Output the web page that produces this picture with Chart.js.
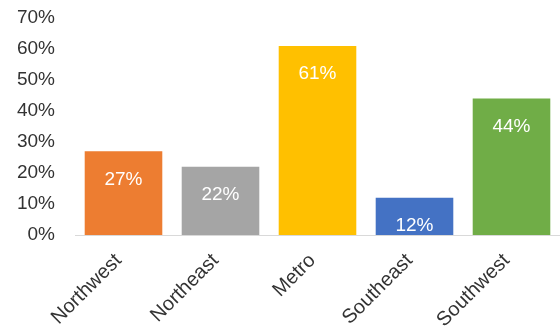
<!DOCTYPE html>
<html>
<head>
<meta charset="utf-8">
<script src="https://cdn.jsdelivr.net/npm/chart.js@4/dist/chart.umd.min.js"></script>
<style>
  html, body { margin: 0; padding: 0; background: #fff; }
  #wrap { width: 560px; height: 335px; }
</style>
</head>
<body>
<div id="wrap"><canvas id="chart" width="560" height="335"></canvas></div>
<script>
'use strict';
var regions = ['Northwest', 'Northeast', 'Metro', 'Southeast', 'Southwest'];
var shares = [27, 22, 61, 12, 44];
var barColors = ['#ED7D31', '#A5A5A5', '#FFC000', '#4472C4', '#70AD47'];
var yTicks = [0, 10, 20, 30, 40, 50, 60, 70];

var fontFamily = '"Liberation Sans", Arial, sans-serif';
var textColor = '#333333';

// white value text near the top of each bar
var valueLabels = {
  id: 'valueLabels',
  afterDatasetsDraw: function (chart) {
    var ctx = chart.ctx;
    var meta = chart.getDatasetMeta(0);
    ctx.save();
    ctx.fillStyle = '#ffffff';
    ctx.font = '19px ' + fontFamily;
    ctx.textAlign = 'center';
    ctx.textBaseline = 'middle';
    meta.data.forEach(function (bar, i) {
      ctx.fillText(shares[i] + '%', bar.x, bar.y + 28);
    });
    ctx.restore();
  }
};

new Chart(document.getElementById('chart'), {
  type: 'bar',
  data: {
    labels: regions,
    datasets: [{
      data: shares,
      backgroundColor: barColors,
      borderWidth: 0,
      barPercentage: 0.8,
      categoryPercentage: 1.0
    }]
  },
  options: {
    responsive: false,
    animation: false,
    layout: { padding: { left: 10, top: 18, right: 0, bottom: 0 } },
    plugins: {
      legend: { display: false },
      tooltip: { enabled: false }
    },
    scales: {
      x: {
        grid: { display: false, drawTicks: false },
        border: { display: true, color: '#d9d9d9', width: 1 },
        afterFit: function (axis) {
          axis.paddingLeft = 0;
          axis.paddingRight = 0;
          axis.height = 100;
        },
        ticks: {
          color: textColor,
          font: { family: fontFamily, size: 20 },
          minRotation: 45,
          maxRotation: 45,
          padding: 14,
          labelOffset: -5
        }
      },
      y: {
        min: yTicks[0],
        max: yTicks[yTicks.length - 1],
        afterBuildTicks: function (axis) {
          axis.ticks = yTicks.map(function (v) { return { value: v }; });
        },
        afterFit: function (axis) {
          axis.paddingTop = 0;
          axis.paddingBottom = 0;
          axis.width = 65;
        },
        grid: { display: false, drawTicks: false },
        border: { display: false },
        ticks: {
          color: textColor,
          font: { family: fontFamily, size: 19 },
          padding: 20,
          callback: function (v) { return v + '%'; }
        }
      }
    }
  },
  plugins: [valueLabels]
});
</script>
</body>
</html>
